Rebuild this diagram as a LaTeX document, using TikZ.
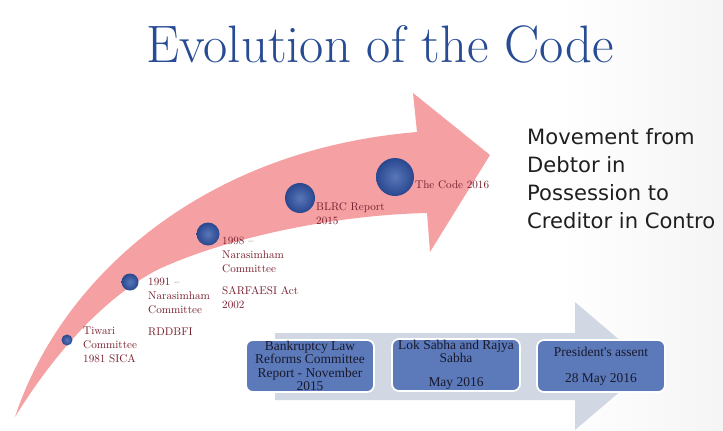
\documentclass[tikz,border=0pt]{standalone}
\usepackage{fontspec}
\newfontfamily\boxfont{Liberation Serif}
\newfontfamily\sidefont{DejaVu Sans}
\usepackage{tikz}
\definecolor{titleblue}{RGB}{40,76,148}
\definecolor{arrowpink}{RGB}{245,160,162}
\definecolor{arrowgrey}{RGB}{210,215,228}
\definecolor{dotblue}{RGB}{48,84,168}
\definecolor{labelred}{RGB}{120,30,45}
\definecolor{boxblue}{RGB}{92,122,185}
\definecolor{boxtext}{RGB}{25,25,45}
\tikzset{
  eventdot/.style={circle,inner sep=0pt,shading=radial,inner color=dotblue!80!white,outer color=dotblue!85!black},
  eventtext/.style={labelred,anchor=north west,align=left,inner sep=0pt,font=\fontsize{9.5}{12}\selectfont},
  stagebox/.style={rounded corners=6pt,fill=boxblue,draw=white,line width=1.5pt,minimum width=38.4mm,minimum height=15.6mm,align=center,text=boxtext,inner sep=0pt,font=\boxfont\fontsize{11.5}{11.5}\selectfont}
}

\begin{document}
\begin{tikzpicture}[x=0.3mm,y=-0.3mm]
        \useasboundingbox (0,0) rectangle (723,430);
        \fill[white] (0,0) rectangle (723,430);
        \shade[left color=white,right color=black!4] (560,0) rectangle (723,430);
        \node[titleblue,font=\fontsize{45}{52}\selectfont,anchor=base] (title) at (380,62) {Evolution of the Code};
        \fill[arrowpink] (15,417) .. controls (60,280) and (200,150) .. (417,132)
          -- (413,93) -- (490,155) -- (430,252) -- (427,213)
          .. controls (330,215) and (220,240) .. (157,270)
          .. controls (100,300) and (50,360) .. (15,417) -- cycle;
        \foreach \n/\p/\s in {tiwari/{(67,340)}/3.3mm,nara91/{(130,282)}/5.1mm,nara98/{(208,234)}/6.9mm,blrc/{(300,198)}/9mm,code/{(395,177)}/11.4mm}
          \node[eventdot,minimum size=\s] (\n) at \p {};
        \node[eventtext] (tiwarilbl) at (83,327) {Tiwari\\Committee\\1981 SICA};
        \node[eventtext] (nara91lbl) at (148,278) {1991 --\\Narasimham\\Committee};
        \node[eventtext] (rddbfi) at (148,328) {RDDBFI};
        \node[eventtext] (nara98lbl) at (222,237) {1998 --\\Narasimham\\Committee};
        \node[eventtext] (sarfaesi) at (222,286) {SARFAESI Act\\2002};
        \node[eventtext] (blrclbl) at (316,202) {BLRC Report\\2015};
        \node[eventtext] (codelbl) at (415,180) {The Code 2016};
        \node[anchor=north west,align=left,inner sep=0pt,text=black!88,font=\sidefont\fontsize{18}{24}\selectfont] (movement) at (527,128) {Movement from\\Debtor in\\Possession to\\Creditor in Contro};
        \fill[arrowgrey] (275,333) -- (575,333) -- (575,302) -- (650,366) -- (575,430) -- (575,400) -- (275,400) -- cycle;
        \node[stagebox] (report) at (310,366) {Bankruptcy Law\\Reforms Committee\\Report - November\\2015};
        \node[stagebox] (sabha) at (456,365) {Lok Sabha and Rajya\\Sabha\\[9pt]May 2016};
        \node[stagebox] (assent) at (601,366) {President's assent\\[11pt]28 May 2016};
      \end{tikzpicture}
\end{document}
